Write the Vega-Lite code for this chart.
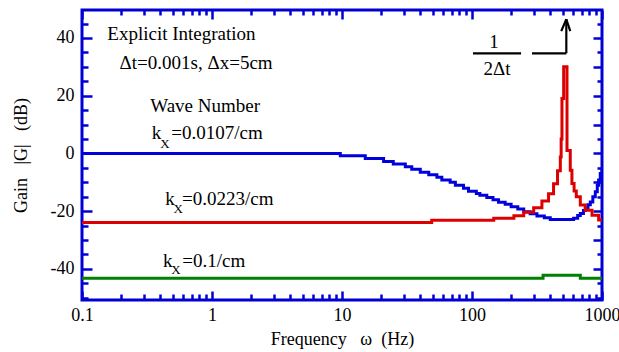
{
  "$schema": "https://vega.github.io/schema/vega-lite/v6.json",
  "width": 520,
  "height": 290,
  "autosize": {"type": "none"},
  "padding": {"left": 82, "top": 10, "right": 17, "bottom": 52},
  "background": "white",
  "config": {
    "view": {"stroke": "#0000d4", "strokeWidth": 3},
    "font": "'Liberation Serif', 'Times New Roman', serif",
    "axis": {
      "domain": false,
      "grid": false,
      "tickColor": "#0000d4",
      "tickWidth": 2.5,
      "labelFont": "'Liberation Serif', 'Times New Roman', serif",
      "labelFontSize": 18,
      "labelColor": "black",
      "titleFont": "'Liberation Serif', 'Times New Roman', serif",
      "titleFontSize": 18,
      "titleFontWeight": "normal",
      "titleColor": "black"
    }
  },
  "datasets": {
    "curves": [
      {"s": "a", "f": 0.1, "g": 0},
      {"s": "a", "f": 9.7, "g": -0.8},
      {"s": "a", "f": 15.1, "g": -1.8},
      {"s": "a", "f": 20.9, "g": -2.8},
      {"s": "a", "f": 24.8, "g": -3.7},
      {"s": "a", "f": 30.7, "g": -4.6},
      {"s": "a", "f": 34.4, "g": -5.5},
      {"s": "a", "f": 40, "g": -6.5},
      {"s": "a", "f": 46.5, "g": -7.4},
      {"s": "a", "f": 53.7, "g": -8.3},
      {"s": "a", "f": 58.6, "g": -9.2},
      {"s": "a", "f": 67.9, "g": -10},
      {"s": "a", "f": 74.5, "g": -11},
      {"s": "a", "f": 86, "g": -12.1},
      {"s": "a", "f": 94, "g": -13.1},
      {"s": "a", "f": 108, "g": -13.9},
      {"s": "a", "f": 115, "g": -14.5},
      {"s": "a", "f": 130, "g": -15.3},
      {"s": "a", "f": 145, "g": -16.1},
      {"s": "a", "f": 160, "g": -16.9},
      {"s": "a", "f": 180, "g": -17.6},
      {"s": "a", "f": 200, "g": -18.5},
      {"s": "a", "f": 225, "g": -19.3},
      {"s": "a", "f": 250, "g": -20.2},
      {"s": "a", "f": 280, "g": -20.9},
      {"s": "a", "f": 316, "g": -21.7},
      {"s": "a", "f": 360, "g": -22.3},
      {"s": "a", "f": 400, "g": -22.9},
      {"s": "a", "f": 605, "g": -22.5},
      {"s": "a", "f": 650, "g": -21.5},
      {"s": "a", "f": 681, "g": -20.8},
      {"s": "a", "f": 720, "g": -19.8},
      {"s": "a", "f": 744, "g": -19},
      {"s": "a", "f": 780, "g": -17.8},
      {"s": "a", "f": 813, "g": -16.8},
      {"s": "a", "f": 850, "g": -15},
      {"s": "a", "f": 888, "g": -13.3},
      {"s": "a", "f": 920, "g": -11},
      {"s": "a", "f": 942, "g": -9.2},
      {"s": "a", "f": 970, "g": -7},
      {"s": "a", "f": 1000, "g": -5},
      {"s": "b", "f": 0.1, "g": -23.9},
      {"s": "b", "f": 49, "g": -23.2},
      {"s": "b", "f": 147, "g": -22.5},
      {"s": "b", "f": 210, "g": -21.6},
      {"s": "b", "f": 250, "g": -20.4},
      {"s": "b", "f": 298, "g": -18.8},
      {"s": "b", "f": 345, "g": -16.5},
      {"s": "b", "f": 388, "g": -14},
      {"s": "b", "f": 424, "g": -10.5},
      {"s": "b", "f": 455, "g": -6},
      {"s": "b", "f": 478, "g": -1.2},
      {"s": "b", "f": 485, "g": 5},
      {"s": "b", "f": 492, "g": 19},
      {"s": "b", "f": 507, "g": 30},
      {"s": "b", "f": 538, "g": 1},
      {"s": "b", "f": 570, "g": -5.8},
      {"s": "b", "f": 587, "g": -10.4},
      {"s": "b", "f": 610, "g": -13},
      {"s": "b", "f": 634, "g": -15},
      {"s": "b", "f": 681, "g": -17.9},
      {"s": "b", "f": 744, "g": -19.7},
      {"s": "b", "f": 838, "g": -21.4},
      {"s": "b", "f": 942, "g": -23.1},
      {"s": "b", "f": 1000, "g": -23.3},
      {"s": "c", "f": 0.1, "g": -43.3},
      {"s": "c", "f": 352, "g": -42.2},
      {"s": "c", "f": 681, "g": -43.3},
      {"s": "c", "f": 1000, "g": -43.3}
    ],
    "texts": [
      {"f": 0.1566, "g": 39.3, "t": "Explicit Integration"},
      {"f": 0.1947, "g": 29.2, "t": "Δt=0.001s, Δx=5cm"},
      {"f": 0.335, "g": 14.4, "t": "Wave Number"},
      {"f": 0.344, "g": 4.96, "t": "k"},
      {"f": 0.486, "g": 4.96, "t": "=0.0107/cm"},
      {"f": 0.4378, "g": -17.9, "t": "k"},
      {"f": 0.588, "g": -17.9, "t": "=0.0223/cm"},
      {"f": 0.42, "g": -39.3, "t": "k"},
      {"f": 0.59, "g": -39.3, "t": "=0.1/cm"},
      {"f": 135.8, "g": 36.6, "t": "1"},
      {"f": 122.7, "g": 27.1, "t": "2Δt"}
    ],
    "subs": [
      {"f": 0.4, "g": 1.84, "t": "X"},
      {"f": 0.5066, "g": -20.6, "t": "X"},
      {"f": 0.486, "g": -41.8, "t": "X"}
    ],
    "segs": [
      {"f1": 101.8, "f2": 238.5, "g1": 34.7, "g2": 34.7},
      {"f1": 289.5, "f2": 531.5, "g1": 34.7, "g2": 34.7},
      {"f1": 531.5, "f2": 531.5, "g1": 34.7, "g2": 46.5},
      {"f1": 531.5, "f2": 486, "g1": 46.5, "g2": 42.4},
      {"f1": 531.5, "f2": 570, "g1": 46.5, "g2": 42.4}
    ]
  },
  "resolve": {"axis": {"x": "independent", "y": "independent"}},
  "layer": [
    {
      "data": {"name": "curves"},
      "mark": {"type": "line", "strokeWidth": 3, "interpolate": "step-after", "clip": true},
      "encoding": {
        "x": {
          "field": "f", "type": "quantitative",
          "scale": {"type": "log", "domain": [0.1, 1000], "nice": false},
          "axis": {
            "orient": "bottom",
            "values": [0.1, 1, 10, 100, 1000],
            "tickSize": -9,
            "labelPadding": 15,
            "labelExpr": "'' + datum.value",
            "labelFlush": false,
            "labelOverlap": false,
            "title": "Frequency\u00a0\u00a0\u00a0ω\u00a0\u00a0(Hz)",
            "titlePadding": 6
          }
        },
        "y": {
          "field": "g", "type": "quantitative",
          "scale": {"domain": [-50.8, 49.7], "nice": false, "zero": false},
          "axis": {
            "orient": "left",
            "values": [-40, -20, 0, 20, 40],
            "tickSize": -10,
            "labelPadding": 18,
            "labelExpr": "'' + datum.value",
            "labelFlush": false,
            "labelOverlap": false,
            "title": "Gain\u00a0\u00a0\u00a0|G|\u00a0\u00a0\u00a0(dB)",
            "titlePadding": 20
          }
        },
        "color": {
          "field": "s", "type": "nominal",
          "scale": {"domain": ["c", "b", "a"], "range": ["#008000", "#dd0000", "#0000dd"]},
          "legend": null
        }
      }
    },
    {
      "data": {"name": "texts"},
      "mark": {"type": "text", "fontSize": 19, "font": "'Liberation Serif', 'Times New Roman', serif", "color": "black", "align": "left", "baseline": "alphabetic"},
      "encoding": {
        "x": {
          "field": "f", "type": "quantitative",
          "scale": {"type": "log", "domain": [0.1, 1000], "nice": false},
          "axis": {
            "orient": "bottom",
            "values": [0.2, 0.3, 0.4, 0.5, 0.6, 0.7, 0.8, 0.9, 2, 3, 4, 5, 6, 7, 8, 9, 20, 30, 40, 50, 60, 70, 80, 90, 200, 300, 400, 500, 600, 700, 800, 900],
            "tickSize": -6,
            "labels": false,
            "title": null
          }
        },
        "y": {
          "field": "g", "type": "quantitative",
          "scale": {"domain": [-50.8, 49.7], "nice": false, "zero": false},
          "axis": {
            "orient": "left",
            "values": [-50, -45, -35, -30, -25, -15, -10, -5, 5, 10, 15, 25, 30, 35, 45],
            "tickSize": -6,
            "labels": false,
            "title": null
          }
        },
        "text": {"field": "t"}
      }
    },
    {
      "data": {"name": "segs"},
      "mark": {"type": "rule", "color": "black", "strokeWidth": 2.2},
      "encoding": {
        "x": {
          "field": "f1", "type": "quantitative",
          "scale": {"type": "log", "domain": [0.1, 1000], "nice": false},
          "axis": {
            "orient": "top",
            "values": [0.1, 1, 10, 100, 1000],
            "tickSize": -9,
            "labels": false,
            "title": null
          }
        },
        "x2": {"field": "f2"},
        "y": {
          "field": "g1", "type": "quantitative",
          "scale": {"domain": [-50.8, 49.7], "nice": false, "zero": false},
          "axis": {
            "orient": "right",
            "values": [-40, -30, -20, -10, 0, 10, 20, 30, 40],
            "tickSize": -9,
            "labels": false,
            "title": null
          }
        },
        "y2": {"field": "g2"}
      }
    },
    {
      "data": {"name": "subs"},
      "mark": {"type": "text", "fontSize": 13, "font": "'Liberation Serif', 'Times New Roman', serif", "color": "black", "align": "left", "baseline": "alphabetic"},
      "encoding": {
        "x": {
          "field": "f", "type": "quantitative",
          "scale": {"type": "log", "domain": [0.1, 1000], "nice": false},
          "axis": {
            "orient": "top",
            "values": [0.2, 0.3, 0.4, 0.5, 0.6, 0.7, 0.8, 0.9, 2, 3, 4, 5, 6, 7, 8, 9, 20, 30, 40, 50, 60, 70, 80, 90, 200, 300, 400, 500, 600, 700, 800, 900],
            "tickSize": -5,
            "labels": false,
            "title": null
          }
        },
        "y": {
          "field": "g", "type": "quantitative",
          "scale": {"domain": [-50.8, 49.7], "nice": false, "zero": false},
          "axis": {
            "orient": "right",
            "values": [-50, -45, -35, -25, -15, -5, 5, 15, 25, 35, 45],
            "tickSize": -5,
            "labels": false,
            "title": null
          }
        },
        "text": {"field": "t"}
      }
    }
  ]
}
